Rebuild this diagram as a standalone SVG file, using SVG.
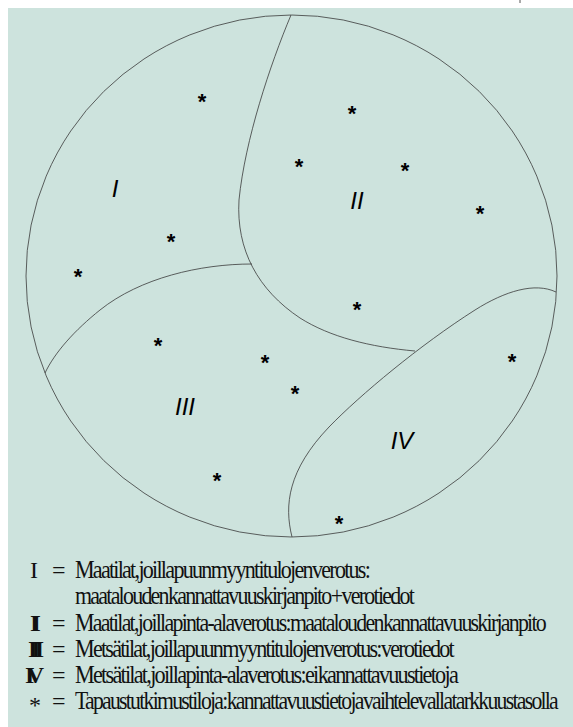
<svg xmlns="http://www.w3.org/2000/svg" width="573" height="727" viewBox="0 0 573 727">
<style>
.ln{fill:none;stroke:#3a3a3a;stroke-width:0.8}
.star{font-family:"Liberation Sans",Arial,sans-serif;font-weight:bold;font-size:22px;fill:#000;text-anchor:middle}
.rom{font-family:"Liberation Sans",Arial,sans-serif;font-style:italic;font-size:24px;fill:#000;text-anchor:middle}
.leg{font-family:"Liberation Serif","Times New Roman",serif;font-size:25px;fill:#111;letter-spacing:-2px;word-spacing:-4px}
.num{font-family:"Liberation Serif","Times New Roman",serif;font-size:24px;fill:#111}
.bn{font-weight:bold}
</style>
<rect x="0" y="0" width="573" height="727" fill="#ffffff"/>
<rect x="8" y="8" width="565" height="719" fill="#cde3dd"/>
<line x1="520" y1="0" x2="520" y2="3" stroke="#555" stroke-width="1"/>
<g id="connectors">
<ellipse class="ln" cx="291.5" cy="276" rx="265.5" ry="261"/>
<path class="ln" d="M291,15 C270,65 245,140 239,200 C236,250 258,290 300,318 C330,337 370,347 415,351"/>
<path class="ln" d="M252,264 C200,264 140,278 100,310 C75,330 55,352 45,373"/>
<path class="ln" d="M292,537 C284,505 288,470 329,427 C360,395 420,345 475,310 C505,291 535,282 556,292"/>
</g>
<g id="region-I"><text class="rom" x="115" y="197">I</text></g>
<g id="region-II"><text class="rom" x="357" y="209">II</text></g>
<g id="region-III"><text class="rom" x="185" y="415">III</text></g>
<g id="region-IV"><text class="rom" x="402" y="449">IV</text></g>
<g id="stars">
<text class="star" x="202" y="109">*</text>
<text class="star" x="352" y="121">*</text>
<text class="star" x="299" y="174">*</text>
<text class="star" x="405" y="178">*</text>
<text class="star" x="480" y="221">*</text>
<text class="star" x="171" y="249">*</text>
<text class="star" x="78" y="284">*</text>
<text class="star" x="357" y="317">*</text>
<text class="star" x="158" y="353">*</text>
<text class="star" x="265" y="370">*</text>
<text class="star" x="512" y="369">*</text>
<text class="star" x="295" y="401">*</text>
<text class="star" x="217" y="488">*</text>
<text class="star" x="339" y="531">*</text>
</g>
<g id="legend">
<text class="num" x="30" y="578">I</text>
<text class="num" x="52" y="578">=</text>
<text class="leg" transform="translate(75,578) scale(0.74,1)" x="0" y="0" textLength="397.3" lengthAdjust="spacingAndGlyphs">Maatilat, joilla puun myyntitulojen verotus:</text>
<text class="leg" transform="translate(75,604) scale(0.74,1)" x="0" y="0" textLength="456.8" lengthAdjust="spacingAndGlyphs">maatalouden kannattavuuskirjanpito + verotiedot</text>
<text class="num bn" x="30" y="631" letter-spacing="-7.8">II</text>
<text class="num" x="52" y="631">=</text>
<text class="leg" transform="translate(75,631) scale(0.74,1)" x="0" y="0" textLength="635.1" lengthAdjust="spacingAndGlyphs">Maatilat, joilla pinta-alaverotus: maatalouden kannattavuuskirjanpito</text>
<text class="num bn" x="28" y="657" letter-spacing="-6">III</text>
<text class="num" x="52" y="657">=</text>
<text class="leg" transform="translate(75,657) scale(0.74,1)" x="0" y="0" textLength="510.8" lengthAdjust="spacingAndGlyphs">Metsätilat, joilla puun myyntitulojen verotus: verotiedot</text>
<text class="num bn" x="25" y="683" letter-spacing="-7.5">IV</text>
<text class="num" x="52" y="683">=</text>
<text class="leg" transform="translate(75,683) scale(0.74,1)" x="0" y="0" textLength="516.2" lengthAdjust="spacingAndGlyphs">Metsätilat, joilla pinta-alaverotus: ei kannattavuustietoja</text>
<text class="num" x="29" y="713">*</text>
<text class="num" x="52" y="709">=</text>
<text class="leg" transform="translate(75,709) scale(0.74,1)" x="0" y="0" textLength="651.4" lengthAdjust="spacingAndGlyphs">Tapaustutkimustiloja: kannattavuustietoja vaihtelevalla tarkkuustasolla</text>
</g>
</svg>
